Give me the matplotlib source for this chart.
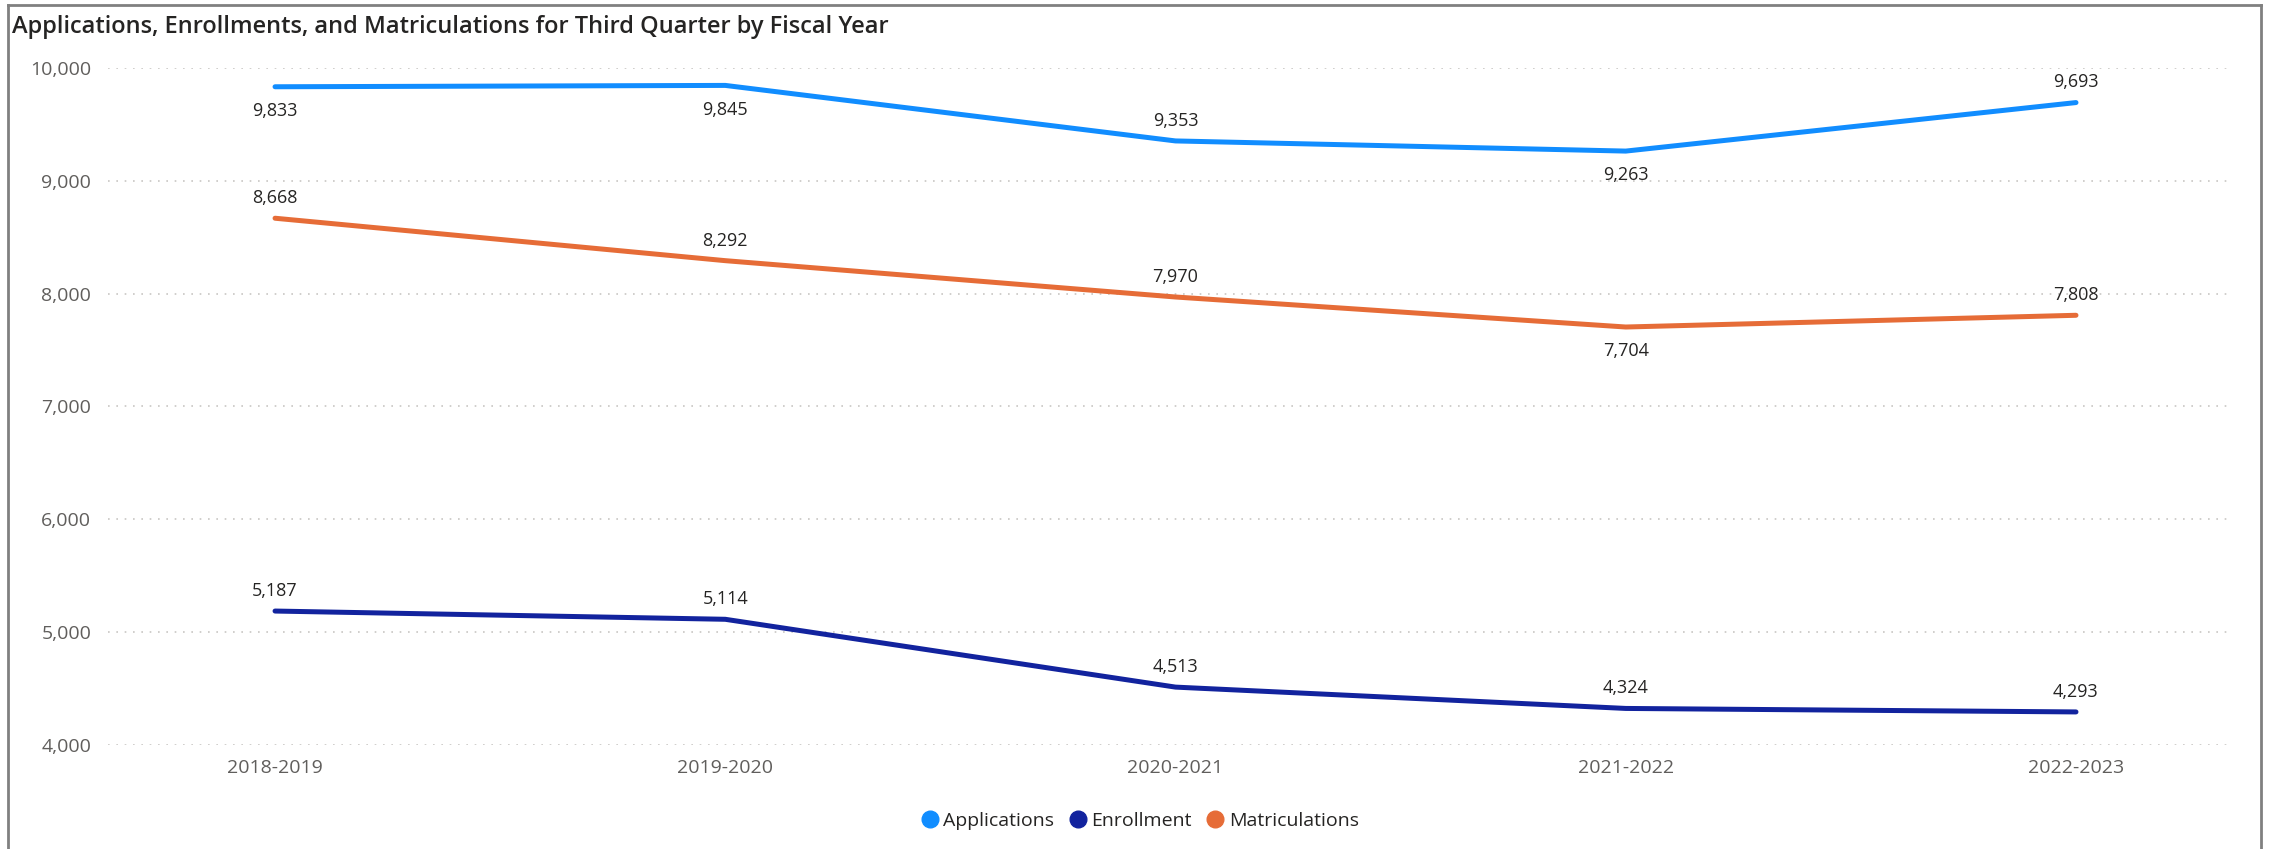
import matplotlib
matplotlib.use("Agg")
import matplotlib.pyplot as plt
from matplotlib.lines import Line2D
from matplotlib.ticker import FuncFormatter

years = ["2018-2019", "2019-2020", "2020-2021", "2021-2022", "2022-2023"]
applications = [9833, 9845, 9353, 9263, 9693]
enrollment = [5187, 5114, 4513, 4324, 4293]
matriculations = [8668, 8292, 7970, 7704, 7808]

# label placement per point: 1 above, -1 below
app_pos = [-1, -1, 1, -1, 1]
enr_pos = [1, 1, 1, 1, 1]
mat_pos = [1, 1, 1, -1, 1]

plt.rcParams['font.family'] = ['Open Sans', 'DejaVu Sans']

fig = plt.figure(figsize=(22.69, 8.49), dpi=100)
ax = fig.add_axes([0.0476, 0.1225, 0.9348, 0.7975])

series = [
    ("Applications", applications, "#118DFF", app_pos),
    ("Enrollment", enrollment, "#12239E", enr_pos),
    ("Matriculations", matriculations, "#E66C37", mat_pos),
]

x = range(len(years))
for name, vals, color, pos in series:
    ax.plot(x, vals, color=color, linewidth=3.6, solid_capstyle="round", zorder=3)
    for xi, v, p in zip(x, vals, pos):
        off = 8 if p > 0 else -11
        ax.annotate(f"{v:,}", (xi, v), xytext=(0, off), textcoords="offset points",
                    ha="center", va="bottom" if p > 0 else "top",
                    fontsize=13, color="#252423")

ax.set_ylim(4000, 10000)
ax.set_xlim(-0.371, 4.34)
ax.set_yticks(range(4000, 10001, 1000))
ax.yaxis.set_major_formatter(FuncFormatter(lambda v, _: f"{int(v):,}"))
ax.set_xticks(list(x))
ax.set_xticklabels(years)
ax.tick_params(axis="both", length=0, labelsize=14, colors="#605E5C")
ax.tick_params(axis="x", pad=10)
ax.tick_params(axis="y", pad=12)
ax.grid(axis="y", linestyle=(0, (1, 4)), color="#C8C6C4", linewidth=1.2)
ax.set_axisbelow(True)
for s in ax.spines.values():
    s.set_visible(False)

fig.text(0.0055, 0.968, "Applications, Enrollments, and Matriculations for Third Quarter by Fiscal Year",
         fontsize=17, color="#252423", va="center", ha="left", fontweight="semibold")

handles = [Line2D([0], [0], marker="o", linestyle="", markersize=12,
                  markerfacecolor=c, markeredgecolor=c, label=n) for n, _, c, _ in series]
fig.legend(handles=handles, loc="center", bbox_to_anchor=(0.5, 0.033), ncol=3,
           frameon=False, fontsize=14, handletextpad=-0.3, columnspacing=0.2,
           labelcolor="#252423")

# visual frame
frame_kw = dict(color="#808080", linewidth=2, transform=fig.transFigure)
fig.add_artist(Line2D([0.0035, 0.0035], [0, 0.994], **frame_kw))
fig.add_artist(Line2D([0.0035, 0.9965], [0.994, 0.994], **frame_kw))
fig.add_artist(Line2D([0.9965, 0.9965], [0, 0.994], **frame_kw))

fig.savefig("out.png", dpi=100, facecolor="white")
